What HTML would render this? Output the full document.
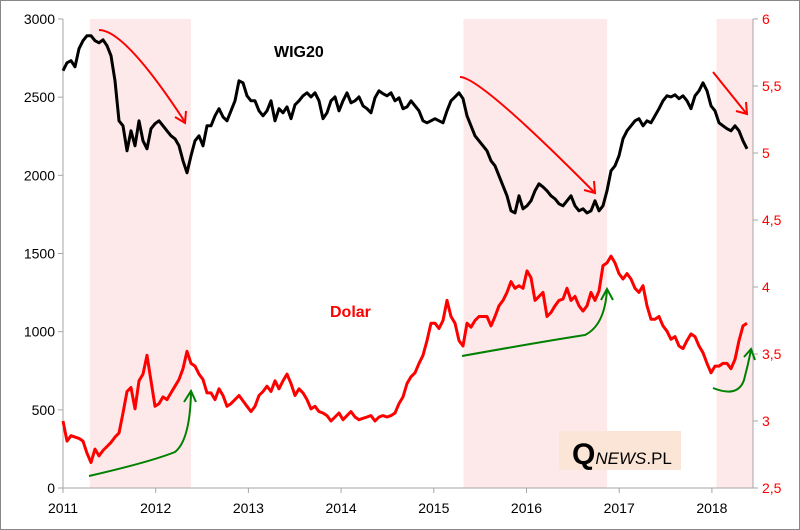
<!DOCTYPE html>
<html><head><meta charset="utf-8">
<style>
body{margin:0;background:#fff;}
#wrap{position:relative;width:798px;height:528px;border:1px solid #888;background:#fff;overflow:hidden;}
svg{position:absolute;left:0;top:0;}
text{font-family:"Liberation Sans",sans-serif;}
</style></head>
<body>
<div id="wrap">
<svg id="chart" width="800" height="530"></svg>
</div>
<script>
const startYear = 2011;
const stepYears = 0.04315;
const yearTicks = [2011,2012,2013,2014,2015,2016,2017,2018];
const leftTicks = [0,500,1000,1500,2000,2500,3000];
const rightTicks = [2.5,3,3.5,4,4.5,5,5.5,6];
const rightTickLabels = ["2,5","3","3,5","4","4,5","5","5,5","6"];
const shadedPeriods = [[2011.29,2012.38],[2015.32,2016.87],[2018.05,2018.5]];
const wig20 = [2669,2720,2733,2694,2810,2861,2893,2893,2861,2848,2867,2829,2765,2605,2349,2317,2157,2285,2189,2349,2221,2170,2298,2330,2349,2317,2285,2253,2234,2189,2093,2016,2125,2221,2253,2189,2317,2317,2381,2426,2374,2349,2413,2477,2605,2592,2509,2477,2477,2413,2381,2413,2477,2349,2426,2400,2438,2362,2451,2477,2509,2528,2502,2528,2477,2362,2400,2477,2502,2413,2477,2528,2464,2477,2502,2445,2426,2400,2496,2541,2522,2509,2528,2477,2496,2426,2438,2477,2445,2413,2349,2336,2349,2362,2349,2336,2413,2477,2502,2528,2490,2381,2317,2253,2221,2189,2157,2093,2061,1997,1933,1869,1773,1760,1869,1786,1805,1837,1901,1946,1926,1901,1869,1850,1818,1805,1837,1869,1805,1773,1786,1760,1773,1837,1773,1805,1901,2029,2061,2125,2234,2285,2317,2349,2362,2317,2349,2336,2381,2426,2477,2509,2502,2515,2490,2509,2477,2426,2509,2541,2592,2541,2445,2413,2336,2317,2298,2285,2317,2285,2221,2170];
const dollar = [3.00,2.85,2.89,2.88,2.87,2.85,2.76,2.69,2.79,2.74,2.78,2.81,2.84,2.88,2.91,3.06,3.22,3.25,3.09,3.30,3.35,3.49,3.30,3.11,3.13,3.18,3.16,3.21,3.26,3.31,3.39,3.52,3.43,3.41,3.35,3.31,3.21,3.21,3.16,3.24,3.19,3.11,3.13,3.16,3.19,3.15,3.11,3.07,3.11,3.19,3.22,3.26,3.22,3.30,3.24,3.30,3.35,3.28,3.19,3.24,3.21,3.16,3.09,3.11,3.07,3.06,3.04,3.00,3.03,3.06,3.01,3.04,3.07,3.03,3.01,3.02,3.03,3.04,3.00,3.03,3.04,3.03,3.04,3.06,3.13,3.18,3.28,3.33,3.36,3.43,3.49,3.60,3.73,3.73,3.69,3.75,3.90,3.78,3.73,3.60,3.56,3.73,3.70,3.75,3.78,3.78,3.78,3.71,3.78,3.86,3.90,3.96,4.04,3.99,4.01,3.99,4.12,4.07,3.90,3.93,3.96,3.78,3.81,3.86,3.90,3.91,3.99,3.90,3.93,3.86,3.82,3.86,3.96,3.90,3.97,4.16,4.18,4.23,4.18,4.10,4.06,4.10,4.06,3.99,3.96,4.01,3.86,3.76,3.76,3.78,3.71,3.67,3.61,3.63,3.56,3.54,3.60,3.65,3.63,3.56,3.51,3.43,3.36,3.41,3.41,3.43,3.43,3.39,3.46,3.60,3.71,3.73];

const NS="http://www.w3.org/2000/svg";
const svg=document.getElementById('chart');
const X0=62,X1=752,YT=18,YB=487;
const xs=y=>62+(y-2011)*92.7;
const yL=v=>YB-(v/3000)*(YB-YT);
const yR=v=>YB-((v-2.5)/3.5)*(YB-YT);
function mk(tag,attrs,parent){const e=document.createElementNS(NS,tag);for(const k in attrs)e.setAttribute(k,attrs[k]);(parent||svg).appendChild(e);return e;}

shadedPeriods.forEach((p,i)=>{
  const r=mk('rect',{x:xs(p[0]),y:YT,width:Math.min(xs(p[1]),X1)-xs(p[0]),height:YB-YT,fill:'#fde9e9'});
  
  
});
const ax=mk('g',{stroke:'#a6a6a6','stroke-width':1});


mk('line',{x1:X0,y1:YT,x2:X0,y2:YB},ax);
mk('line',{x1:X1,y1:YT,x2:X1,y2:YB},ax);
mk('line',{x1:X0,y1:YB,x2:X1,y2:YB},ax);
leftTicks.forEach(v=>{
  mk('line',{x1:X0-5,y1:yL(v),x2:X0,y2:yL(v)},ax);
  const t=mk('text',{x:X0-8,y:yL(v)+5,'text-anchor':'end','font-size':14,fill:'#000'});
  t.textContent=v;
  
  
});
rightTicks.forEach((v,i)=>{
  mk('line',{x1:X1,y1:yR(v),x2:X1+5,y2:yR(v)},ax);
  const t=mk('text',{x:X1+9,y:yR(v)+5,'font-size':14,fill:'#ff0000'});
  t.textContent=rightTickLabels[i];
  
  
});
yearTicks.forEach(v=>{
  mk('line',{x1:xs(v),y1:YB,x2:xs(v),y2:YB+5},ax);
  const t=mk('text',{x:xs(v),y:YB+25,'text-anchor':'middle','font-size':14,fill:'#000'});
  t.textContent=v;
  
  
});
function line(arr,ysc,color,name){
  const d=arr.map((v,i)=>(i?'L':'M')+xs(startYear+i*stepYears).toFixed(1)+','+ysc(v).toFixed(1)).join('');
  const p=mk('path',{d:d,fill:'none',stroke:color,'stroke-width':3,'stroke-linejoin':'round'});
  
  
}
line(dollar,yR,'#ff0000','dollar-line');
line(wig20,yL,'#000000','wig20-line');
</script>
<svg width="800" height="530" style="position:absolute;left:0;top:0">
<g fill="none" stroke="#ff0000" stroke-width="2">
<path d="M99,30 Q125,30 185,122"/><path d="M175,117 L185,123 L186,111"/>
<path d="M460,77 Q480,77 594,192"/><path d="M584,190 L595,193 L594,181"/>
<path d="M713,72 L746,113"/><path d="M736,111 L747,114 L746,102"/>
</g>
<g fill="none" stroke="#008000" stroke-width="2">
<path d="M89,476 Q150,462 175,452 Q190,440 191,392"/><path d="M184,402 L191,391 L196,402"/>
<path d="M462,356 Q540,342 585,335 Q605,325 607,289"/><path d="M601,300 L607,289 L613,300"/>
<path d="M713,388 Q738,398 744,380 Q748,365 751,350"/><path d="M744,357 L751,349 L755,360"/>
</g>
<text x="274" y="57" font-size="16" font-weight="bold" fill="#000">WIG20</text>
<text x="330" y="317" font-size="16" font-weight="bold" fill="#ff0000">Dolar</text>
<rect x="559" y="431" width="122" height="39" fill="#fbe5d6"/>
<text x="572" y="464" font-family="Liberation Serif,serif" fill="#000"><tspan font-size="30" font-weight="bold">Q</tspan><tspan font-family="Liberation Sans,sans-serif" font-size="17" font-style="italic">NEWS</tspan><tspan font-family="Liberation Sans,sans-serif" font-size="17">.PL</tspan></text>
</svg>
</body></html>
